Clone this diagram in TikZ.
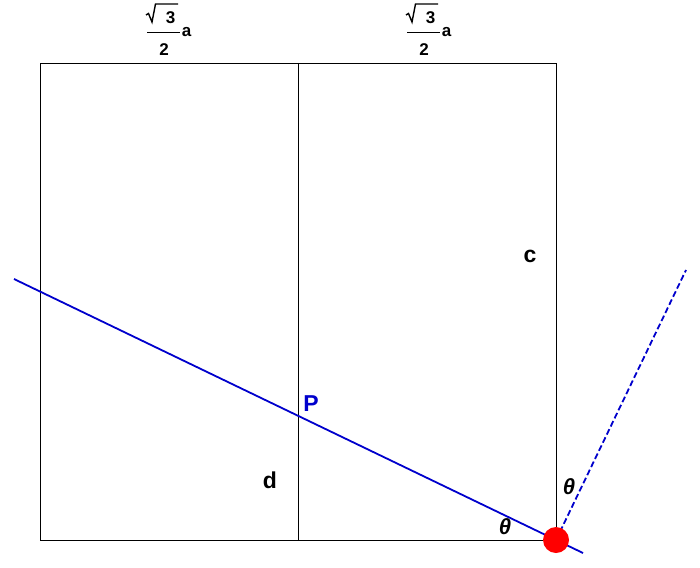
\documentclass[tikz,border=0pt]{standalone}
\usepackage{fontspec}
\setmainfont{Liberation Sans}
\begin{document}
\begin{tikzpicture}[x=1pt,y=-1pt,
  frame/.style={draw=black,line width=0.9pt},
  ray/.style={draw=blue!80!black,line width=1.8pt},
  lbl/.style={font=\fontsize{23}{26}\selectfont\bfseries,inner sep=0pt},
  ang/.style={font=\fontsize{22}{24}\selectfont\bfseries\itshape,inner sep=0pt},
  frac/.style={font=\fontsize{17}{19}\selectfont\bfseries,inner sep=0pt},
  fracline/.style={draw=black,line width=1.4pt},
  halfa/.pic={
    \node[frac] (-num) at (170.5,17.5) {3};
    \node[frac] (-den) at (164,49.5) {2};
    \node[frac] (-a) at (186.5,32.5) {a};
    \draw[fracline,line join=miter] (146,15) -- (148.5,13.5) -- (152,22) -- (155.5,4) -- (178,4);
    \draw[fracline] (147,32.5) -- (180,32.5);
  }]
\useasboundingbox (0,0) rectangle (700,567);
\coordinate (tl) at (40,63);
\coordinate (tm) at (298,63);
\coordinate (tr) at (556,63);
\coordinate (bl) at (40,540);
\coordinate (bm) at (298,540);
\coordinate (br) at (556,540);
\draw[frame] (tl) rectangle (br);
\draw[frame] (tm) -- (bm);
\coordinate (s) at (14,279);
\coordinate (e) at (583,553);
\coordinate (f) at (686,270);
\draw[ray] (s) -- (e);
\draw[ray,dashed,dash pattern=on 6pt off 3pt] (br) -- (f);
\fill[red] (br) circle (13);
\pic (w1) at (0,0) {halfa};
\pic (w2) at (260,0) {halfa};
\node[lbl] (c) at (530,256) {c};
\node[lbl] (d) at (270,480) {d};
\node[lbl,text=blue!80!black] (P) at (311,404) {P};
\node[ang] (t1) at (505,527) {θ};
\node[ang] (t2) at (569,487) {θ};
\end{tikzpicture}
\end{document}
